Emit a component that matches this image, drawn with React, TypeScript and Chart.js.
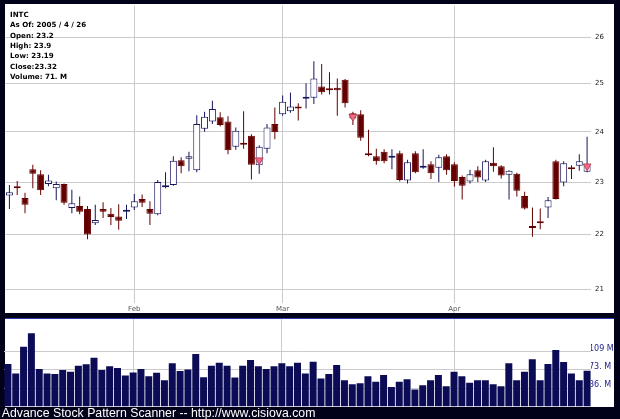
import React, { useEffect, useRef } from 'react';
import { Chart, registerables } from 'chart.js';

Chart.register(...registerables);

// ---------- DATA ----------
const dates = [
  '2005-01-07', '2005-01-10', '2005-01-11', '2005-01-12', '2005-01-13', '2005-01-14', '2005-01-18', '2005-01-19',
  '2005-01-20', '2005-01-21', '2005-01-24', '2005-01-25', '2005-01-26', '2005-01-27', '2005-01-28', '2005-01-31',
  '2005-02-01', '2005-02-02', '2005-02-03', '2005-02-04', '2005-02-07', '2005-02-08', '2005-02-09', '2005-02-10',
  '2005-02-11', '2005-02-14', '2005-02-15', '2005-02-16', '2005-02-17', '2005-02-18', '2005-02-22', '2005-02-23',
  '2005-02-24', '2005-02-25', '2005-02-28',
  '2005-03-01', '2005-03-02', '2005-03-03', '2005-03-04', '2005-03-07', '2005-03-08', '2005-03-09', '2005-03-10',
  '2005-03-11', '2005-03-14', '2005-03-15', '2005-03-16', '2005-03-17', '2005-03-18', '2005-03-21', '2005-03-22',
  '2005-03-23', '2005-03-24', '2005-03-28', '2005-03-29', '2005-03-30', '2005-03-31',
  '2005-04-01', '2005-04-04', '2005-04-05', '2005-04-06', '2005-04-07', '2005-04-08', '2005-04-11', '2005-04-12',
  '2005-04-13', '2005-04-14', '2005-04-15', '2005-04-18', '2005-04-19', '2005-04-20', '2005-04-21', '2005-04-22',
  '2005-04-25', '2005-04-26',
];

const openP = [
  22.74, 22.90, 22.69, 23.25, 23.15, 22.96, 22.88, 22.96, 22.50, 22.54,
  22.48, 22.21, 22.48, 22.39, 22.34, 22.43, 22.51, 22.67, 22.48, 22.38,
  22.90, 22.94, 23.43, 23.46, 23.23, 24.06, 24.21, 24.30, 24.21, 23.70,
  23.77, 23.92, 23.33, 23.66, 24.16, 24.36, 24.42, 24.51, 24.68, 24.70,
  24.94, 24.89, 24.91, 25.08, 24.38, 24.36, 23.56, 23.51, 23.60, 23.48,
  23.57, 23.03, 23.57, 23.28, 23.35, 23.28, 23.51, 23.35, 23.10, 23.01,
  23.23, 23.03, 23.38, 23.31, 23.14, 23.16, 22.73, 22.16, 22.24, 22.51,
  23.41, 22.99, 23.28, 23.32, 23.20,
];
const highP = [
  22.94, 23.02, 22.79, 23.34, 23.23, 23.14, 23.01, 22.97, 22.85, 22.72,
  22.54, 22.56, 22.61, 22.50, 22.57, 22.56, 22.77, 22.76, 22.63, 23.04,
  23.19, 23.51, 23.49, 23.60, 24.34, 24.41, 24.64, 24.40, 24.32, 24.09,
  24.42, 23.95, 23.73, 24.16, 24.50, 24.75, 24.81, 24.59, 25.01, 25.48,
  25.42, 25.24, 25.11, 25.10, 24.41, 24.44, 24.04, 23.66, 23.65, 23.65,
  23.62, 23.44, 23.61, 23.65, 23.41, 23.54, 23.55, 23.39, 23.13, 23.24,
  23.31, 23.44, 23.69, 23.33, 23.23, 23.18, 22.81, 22.51, 22.49, 22.71,
  23.44, 23.41, 23.33, 23.55, 23.90,
];
const lowP = [
  22.48, 22.75, 22.40, 22.88, 22.75, 22.92, 22.65, 22.56, 22.40, 22.38,
  21.91, 22.18, 22.31, 22.18, 22.09, 22.29, 22.46, 22.52, 22.18, 22.36,
  22.88, 22.93, 23.17, 23.21, 23.19, 24.00, 24.16, 24.11, 23.55, 23.64,
  23.66, 23.05, 23.16, 23.57, 23.85, 24.33, 24.39, 24.23, 24.48, 24.57,
  24.77, 24.77, 24.33, 24.50, 24.14, 23.82, 23.51, 23.34, 23.37, 23.25,
  23.01, 22.97, 23.17, 23.26, 23.06, 23.00, 23.14, 22.91, 22.66, 22.97,
  23.00, 23.00, 23.20, 23.07, 22.66, 22.72, 22.47, 21.96, 22.10, 22.31,
  22.66, 22.92, 23.06, 23.22, 23.19,
];
const closeP = [
  22.80, 22.88, 22.56, 23.16, 22.84, 23.03, 22.96, 22.60, 22.59, 22.43,
  22.00, 22.27, 22.43, 22.33, 22.26, 22.46, 22.63, 22.60, 22.39, 23.00,
  22.93, 23.42, 23.31, 23.51, 24.16, 24.31, 24.47, 24.14, 23.63, 24.02,
  23.74, 23.34, 23.70, 24.09, 23.99, 24.62, 24.52, 24.48, 24.72, 25.11,
  24.82, 24.86, 24.86, 24.59, 24.27, 23.88, 23.53, 23.41, 23.41, 23.52,
  23.04, 23.39, 23.19, 23.31, 23.17, 23.49, 23.23, 23.02, 22.93, 23.15,
  23.09, 23.41, 23.31, 23.13, 23.22, 22.83, 22.49, 22.12, 22.21, 22.65,
  22.67, 23.37, 23.25, 23.41, 23.32,
];
// volume in millions of shares
const volumeM = [
  84.4, 65.8, 119, 145.5, 74.4, 65.8, 64.4, 72.4, 69, 81,
  83.8, 97, 72.4, 79.8, 76.4, 61.8, 67.8, 74.4, 60.4, 67,
  52.4, 85.8, 70.4, 73.8, 104.4, 58.4, 81, 87, 81, 57.8,
  81, 92.4, 79.8, 74.4, 79.8, 85.8, 79.8, 87, 65.8, 89,
  55.8, 64.4, 82.4, 52.4, 44.4, 46.4, 60.4, 49, 62.4, 39,
  49, 54.4, 33.8, 42.4, 52.4, 62.4, 40.4, 69, 60.4, 47,
  52.4, 52.4, 44.4, 40.4, 85.8, 52.4, 69, 93.8, 52.4, 84.4,
  112.4, 88.4, 65.8, 52.4, 71,
];

const markerDates = ['2005-02-24', '2005-03-14', '2005-04-26'];
const markerPrices = [23.43, 24.31, 23.31];

const priceTicks = [21, 22, 23, 24, 25, 26];
const volumeTicks = [36.4, 72.8, 109.1];
const volumeTickLabels = ['36. M', '73. M', '109 M'];
const monthStarts = ['2005-02-01', '2005-03-01', '2005-04-01'];
const monthLabels = ['Feb', 'Mar', 'Apr'];

const infoLines = ['INTC', 'As Of: 2005 / 4 / 26', 'Open: 23.2', 'High: 23.9', 'Low: 23.19', 'Close:23.32', 'Volume: 71. M'];
const footerText = 'Advance Stock Pattern Scanner -- http://www.cisiova.com';

// ---------- STYLE ----------
const DOWN = '#650000';
const UP_EDGE = '#15155c';
const GRID = '#cbcbcb';
const VOL = '#0c0c56';

const isUp = dates.map((_, i) => closeP[i] >= openP[i]);

function monthTickFilter(scale: any) {
  scale.ticks = monthStarts.map((d) => ({ value: dates.indexOf(d) }));
}

function zeroPad(scale: any) {
  scale.paddingTop = 0;
  scale.paddingBottom = 0;
  scale.paddingLeft = 0;
  scale.paddingRight = 0;
}

const infoPlugin = {
  id: 'infoText',
  afterDraw(chart: any) {
    const ctx = chart.ctx;
    ctx.save();
    ctx.fillStyle = '#000';
    ctx.textAlign = 'left';
    ctx.textBaseline = 'alphabetic';
    ctx.font = 'bold 7.1px "DejaVu Sans"';
    infoLines.forEach((line, i) => {
      ctx.fillText(line, 10, 16.7 + i * 10.43);
    });
    ctx.restore();
  },
};

const footerPlugin = {
  id: 'footerText',
  afterDraw(chart: any) {
    const ctx = chart.ctx;
    ctx.save();
    ctx.fillStyle = '#ffffff';
    ctx.textAlign = 'left';
    ctx.textBaseline = 'alphabetic';
    ctx.font = '12.3px "Liberation Sans"';
    ctx.fillText(footerText, 1.7, 99.3);
    ctx.restore();
  },
};

function priceConfig(): any {
  const bodies = dates.map((_, i) => [openP[i], closeP[i]]);
  const wicks = dates.map((_, i) => [lowP[i], highP[i]]);
  const markers = dates.map((d) => {
    const k = markerDates.indexOf(d);
    return k >= 0 ? markerPrices[k] : null;
  });
  return {
    type: 'bar',
    data: {
      labels: dates,
      datasets: [
        {
          type: 'line',
          data: markers,
          showLine: false,
          pointStyle: 'triangle',
          rotation: 180,
          pointRadius: 4.5,
          pointBackgroundColor: '#ee6f84',
          pointBorderColor: '#c04058',
          pointBorderWidth: 1,
          order: 0,
        },
        {
          data: bodies,
          backgroundColor: isUp.map((u) => (u ? '#ffffff' : DOWN)),
          borderColor: isUp.map((u) => (u ? UP_EDGE : DOWN)),
          borderWidth: 1,
          borderSkipped: false,
          barThickness: 7,
          minBarLength: 2,
          grouped: false,
          inflateAmount: 0,
          order: 1,
        },
        {
          data: wicks,
          backgroundColor: isUp.map((u) => (u ? UP_EDGE : DOWN)),
          borderWidth: 0,
          barThickness: 1,
          grouped: false,
          inflateAmount: 0,
          order: 2,
        },
      ],
    },
    options: {
      animation: false,
      responsive: false,
      maintainAspectRatio: false,
      layout: { padding: { left: 4, top: 4, right: 6, bottom: 1 } },
      plugins: { legend: { display: false }, tooltip: { enabled: false } },
      scales: {
        x: {
          offset: true,
          grid: { offset: false, color: GRID, drawTicks: false },
          border: { display: false },
          ticks: {
            autoSkip: false,
            maxRotation: 0,
            padding: 2,
            color: '#555555',
            font: { family: 'DejaVu Sans', size: 7 },
            callback: (v: number) => monthLabels[monthStarts.indexOf(dates[v])],
          },
          afterBuildTicks: monthTickFilter,
          afterFit: (s: any) => {
            s.height = 10;
            zeroPad(s);
          },
        },
        y: {
          type: 'logarithmic',
          position: 'right',
          min: 20.76,
          max: 26.71,
          grid: { color: GRID, drawTicks: false },
          border: { display: false },
          ticks: {
            padding: 4,
            color: '#222222',
            font: { family: 'DejaVu Sans', size: 7 },
            callback: (v: number) => String(v),
          },
          afterBuildTicks: (s: any) => {
            s.ticks = priceTicks.map((v) => ({ value: v }));
          },
          afterFit: (s: any) => {
            s.width = 23;
            zeroPad(s);
          },
        },
      },
    },
    plugins: [infoPlugin],
  };
}

function volumeConfig(): any {
  return {
    type: 'bar',
    data: {
      labels: dates,
      datasets: [
        {
          data: volumeM,
          backgroundColor: VOL,
          borderWidth: 0,
          barThickness: 7,
          inflateAmount: 0,
        },
      ],
    },
    options: {
      animation: false,
      responsive: false,
      maintainAspectRatio: false,
      layout: { padding: { left: 4, top: 1, right: 6, bottom: 12.5 } },
      plugins: { legend: { display: false }, tooltip: { enabled: false } },
      scales: {
        x: {
          offset: true,
          grid: { offset: false, color: GRID, drawTicks: false },
          border: { display: false },
          ticks: { display: false, autoSkip: false },
          afterBuildTicks: monthTickFilter,
          afterFit: (s: any) => {
            s.height = 0;
            zeroPad(s);
          },
        },
        y: {
          position: 'right',
          min: 0,
          max: 174,
          grid: { color: GRID, drawTicks: false },
          border: { display: false },
          ticks: {
            padding: -2,
            labelOffset: -3,
            color: '#23238a',
            font: { family: 'DejaVu Sans', size: 8 },
            callback: (v: number) => volumeTickLabels[volumeTicks.indexOf(v)],
          },
          afterBuildTicks: (s: any) => {
            s.ticks = volumeTicks.map((v) => ({ value: v }));
          },
          afterFit: (s: any) => {
            s.width = 23;
            zeroPad(s);
          },
        },
      },
    },
    plugins: [footerPlugin],
  };
}

export default function App() {
  const priceRef = useRef<HTMLCanvasElement>(null);
  const volRef = useRef<HTMLCanvasElement>(null);

  useEffect(() => {
    const pc = new Chart(priceRef.current as HTMLCanvasElement, priceConfig());
    const vc = new Chart(volRef.current as HTMLCanvasElement, volumeConfig());
    return () => {
      pc.destroy();
      vc.destroy();
    };
  }, []);

  return (
    <div
      style={{
        position: 'fixed',
        left: 0,
        top: 0,
        width: 620,
        height: 419,
        background: '#01011a',
        overflow: 'hidden',
      }}
    >
      <div style={{ position: 'absolute', left: 5, top: 4, width: 609, height: 309, background: '#ffffff' }} />
      <div
        style={{
          position: 'absolute',
          left: 5,
          top: 318,
          width: 609,
          height: 88,
          background: '#ffffff',
          borderTop: '1px solid #2b3bb0',
        }}
      />
      <canvas ref={priceRef} width={620} height={314} style={{ position: 'absolute', left: 0, top: 0 }} />
      <canvas ref={volRef} width={620} height={101} style={{ position: 'absolute', left: 0, top: 318 }} />
    </div>
  );
}
